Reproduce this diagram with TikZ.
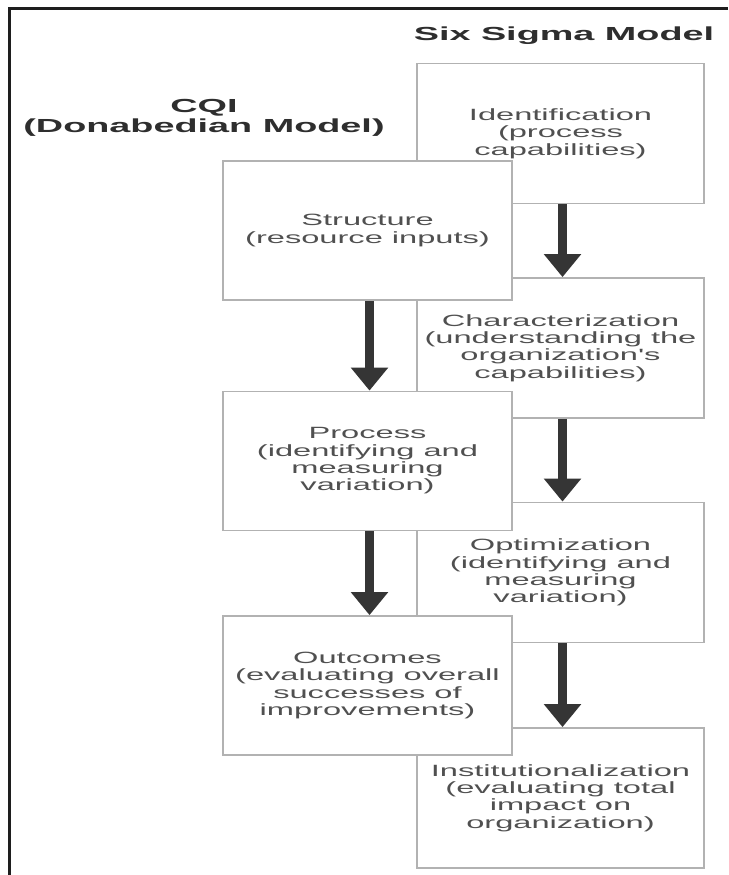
\documentclass[tikz,border=0pt]{standalone}
\usepackage{fontspec}
\usetikzlibrary{arrows.meta}
% wide sans face used throughout the chart
\newfontfamily\widesans[FakeStretch=2.0]{Liberation Sans}
\definecolor{framecol}{HTML}{1E1E1E}
\definecolor{boxline}{HTML}{B2B2B2}
\definecolor{bodytext}{HTML}{505050}
\definecolor{headtext}{HTML}{2E2E2E}
\definecolor{arrowcol}{HTML}{353535}
\begin{document}
\begin{tikzpicture}[x=1pt,y=-1pt,
  stagebox/.style={draw=boxline, line width=1.8pt, fill=white, inner sep=0pt,
    align=center, text=bodytext,
    font=\widesans\fontsize{16.3}{17.3}\selectfont},
  rightbox/.style={stagebox, minimum width=287pt, minimum height=140pt},
  leftbox/.style={stagebox, minimum width=289pt, minimum height=139pt},
  heading/.style={align=center, text=headtext, inner sep=0pt,
    font=\widesans\bfseries\fontsize{18.9}{20}\selectfont},
  flow/.style={draw=arrowcol, line width=8.5pt,
    -{Triangle[width=36pt,length=23pt]}}
]
\useasboundingbox (0,0) rectangle (728,875);
\fill[white] (0,0) rectangle (728,875);

% frame
\draw[framecol, line width=3pt] (9,875) -- (9,9) -- (728,9);

% headings
\node[heading] (sixsigma) at (564,36) {Six Sigma Model};
\node[heading] (cqi) at (204,118) {CQI\\(Donabedian Model)};

% Six Sigma column
\node[rightbox] (ident) at (560.5,133.5) {Identification\\(process\\capabilities)};
\node[rightbox] (charac) at (560.5,348) {Characterization\\(understanding the\\organization's\\capabilities)};
\node[rightbox] (optim) at (560.5,572.5) {Optimization\\(identifying and\\measuring\\variation)};
\node[rightbox] (instit) at (560.5,798) {Institutionalization\\(evaluating total\\impact on\\organization)};

% Donabedian column, drawn over the right column
\node[leftbox] (struct) at (367.5,230.5) {Structure\\(resource inputs)};
\node[leftbox] (proc) at (367.5,461) {Process\\(identifying and\\measuring\\variation)};
\node[leftbox] (outc) at (367.5,685.5) {Outcomes\\(evaluating overall\\successes of\\improvements)};

% flow arrows
\draw[flow] ([xshift=2pt]ident.south) -- ([xshift=2pt]charac.north);
\draw[flow] ([xshift=2pt]charac.south) -- ([xshift=2pt]optim.north);
\draw[flow] ([xshift=2pt]optim.south) -- ([xshift=2pt]instit.north);
\draw[flow] ([xshift=2pt]struct.south) -- ([xshift=2pt]proc.north);
\draw[flow] ([xshift=2pt]proc.south) -- ([xshift=2pt]outc.north);
\end{tikzpicture}
\end{document}
